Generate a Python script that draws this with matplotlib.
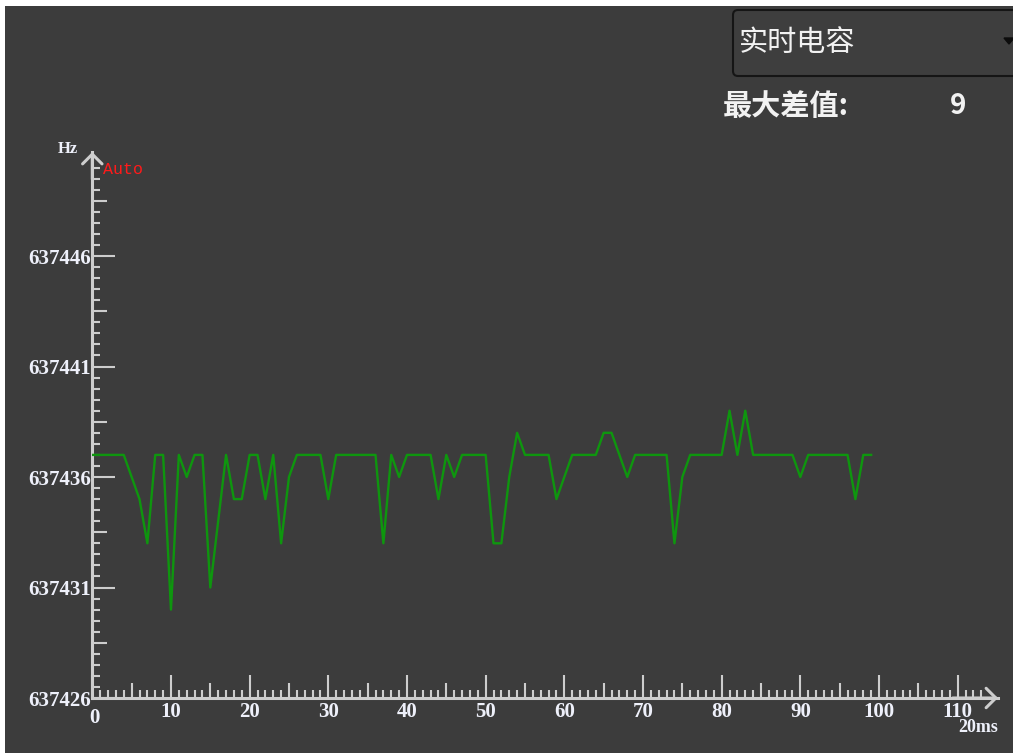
import numpy as np
import matplotlib
matplotlib.use("Agg")
import matplotlib.pyplot as plt
import matplotlib.transforms as mtransforms
from matplotlib.patches import FancyBboxPatch, Rectangle, Polygon
from matplotlib.ticker import FixedLocator, FuncFormatter

plt.rcParams['font.family'] = ['Noto Sans CJK SC', 'DejaVu Sans']

# ---- data ----
base_hz = 637426
samples = list(range(100))          # x, in units of 20 ms
freq_hz = [
    637437, 637437, 637437, 637437, 637437, 637436, 637435, 637433, 637437, 637437,
    637430, 637437, 637436, 637437, 637437, 637431, 637434, 637437, 637435, 637435,
    637437, 637437, 637435, 637437, 637433, 637436, 637437, 637437, 637437, 637437,
    637435, 637437, 637437, 637437, 637437, 637437, 637437, 637433, 637437, 637436,
    637437, 637437, 637437, 637437, 637435, 637437, 637436, 637437, 637437, 637437,
    637437, 637433, 637433, 637436, 637438, 637437, 637437, 637437, 637437, 637435,
    637436, 637437, 637437, 637437, 637437, 637438, 637438, 637437, 637436, 637437,
    637437, 637437, 637437, 637437, 637433, 637436, 637437, 637437, 637437, 637437,
    637437, 637439, 637437, 637439, 637437, 637437, 637437, 637437, 637437, 637437,
    637436, 637437, 637437, 637437, 637437, 637437, 637437, 637435, 637437, 637437,
]
mode_label = "实时电容"
diff_label = "最大差值:"

# ---- layout (pixels) ----
W, H = 1013, 753
x0_px, y0_px = 92.3, 698       # origin
px_per_x, px_per_y = 7.867, 22.1
x_end_px, y_end_px = 998, 152  # arrow tips

BG = '#3c3c3c'
AXC = '#cdcdcd'
LBL = '#eef0fa'

fig = plt.figure(figsize=(W / 100, H / 100), dpi=100, facecolor='white')

# decoration layer in pixel coords
deco = fig.add_axes([0, 0, 1, 1], zorder=0)
deco.set_xlim(0, W)
deco.set_ylim(H, 0)
deco.axis('off')
deco.add_patch(Rectangle((5, 6), W, H, color=BG, lw=0))
deco.add_patch(FancyBboxPatch((733, 10), 300, 66, boxstyle='round,pad=0,rounding_size=5',
                              facecolor='#3e3e3e', edgecolor='#151515', lw=1.5))
deco.add_patch(Polygon([(1004, 38), (1014, 38), (1009, 44)], color='#0c0c0c'))
deco.text(739, 43, mode_label, fontsize=21, color='#f2f2f2', ha='left', va='center')
deco.text(723, 106, diff_label, fontsize=21, fontweight='bold', color='#f2f2f2',
          ha='left', va='center')
deco.text(958, 106, str(max(freq_hz) - min(freq_hz)), fontsize=20, fontweight='bold',
          color='#f2f2f2', ha='center', va='center')
deco.text(68, 149, "Hz", fontsize=12, fontweight='bold', family='Liberation Serif',
          color=LBL, ha='center', va='center')
deco.text(103, 169, "Auto", fontsize=12, family='Liberation Mono', color='#ff1a1a',
          ha='left', va='center')
deco.text(978, 728, "20ms", fontsize=13, fontweight='bold', family='Liberation Serif',
          color=LBL, ha='center', va='center')

# chart axes
ax = fig.add_axes([x0_px / W, (H - y0_px) / H, (x_end_px - x0_px) / W, (y0_px - y_end_px) / H],
                  zorder=1)
ax.patch.set_alpha(0)
ax.set_xlim(0, (x_end_px - x0_px) / px_per_x)
ax.set_ylim(base_hz, base_hz + (y0_px - y_end_px) / px_per_y)

ax.plot(samples, freq_hz, color='#0e960e', lw=1.7, zorder=3)

for s in ['top', 'right']:
    ax.spines[s].set_visible(False)
for s in ['left', 'bottom']:
    ax.spines[s].set_color(AXC)
    ax.spines[s].set_linewidth(2.2)

arrow = dict(arrowstyle='->,head_length=0.35,head_width=0.35', color=AXC, lw=2.2,
             shrinkA=0, shrinkB=0, mutation_scale=20)
ax.annotate('', xy=(1, 0), xytext=(0.95, 0), xycoords='axes fraction', arrowprops=arrow)
ax.annotate('', xy=(0, 1), xytext=(0, 0.95), xycoords='axes fraction', arrowprops=arrow)

ax.xaxis.set_major_locator(FixedLocator(np.arange(0, 111, 5)))
ax.xaxis.set_minor_locator(FixedLocator(np.arange(0, 114, 1)))
ax.yaxis.set_major_locator(FixedLocator(np.arange(base_hz, base_hz + 22.6, 2.5)))
ax.yaxis.set_minor_locator(FixedLocator(np.arange(base_hz, base_hz + 24.1, 0.5)))
ax.xaxis.set_major_formatter(FuncFormatter(lambda v, p: f"{int(round(v))}" if round(v) % 10 == 0 else ""))
ax.yaxis.set_major_formatter(FuncFormatter(lambda v, p: f"{int(round(v))}" if round(v - base_hz) % 5 == 0 else ""))

ax.tick_params(which='both', direction='in', color=AXC, width=1.5)
ax.tick_params(which='major', length=16.5, labelsize=15, labelcolor=LBL)
ax.tick_params(which='minor', length=5.8)
ax.tick_params(axis='x', which='major', pad=3)
ax.tick_params(axis='y', which='major', pad=1)
for lab in ax.get_xticklabels() + ax.get_yticklabels():
    lab.set_family('Liberation Serif')
    lab.set_fontweight('bold')

# medium ticks at the half-steps
for t, v in zip(ax.xaxis.get_major_ticks(), ax.xaxis.get_majorticklocs()):
    if round(v) % 10 != 0:
        t.tick1line.set_markersize(10.8)
for t, v in zip(ax.yaxis.get_major_ticks(), ax.yaxis.get_majorticklocs()):
    if round(v - base_hz) % 5 != 0:
        t.tick1line.set_markersize(10.8)

# the "0" sits a little lower and to the right, as in the original widget
zero_lab = ax.xaxis.get_major_ticks()[0].label1
zero_lab.set_transform(zero_lab.get_transform() +
                       mtransforms.ScaledTranslation(2 / 100, -6 / 100, fig.dpi_scale_trans))

fig.savefig('out.png', dpi=100, facecolor=fig.get_facecolor())
